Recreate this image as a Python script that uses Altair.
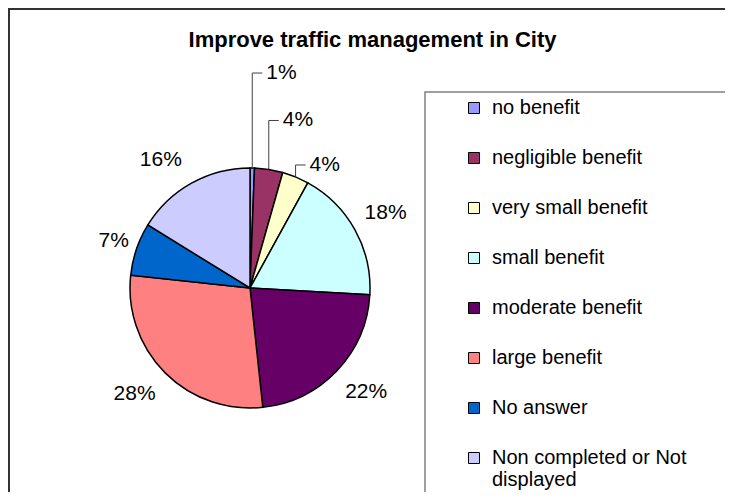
import altair as alt
import pandas as pd

# ---- data ----
categories = ["no benefit", "negligible benefit", "very small benefit", "small benefit",
              "moderate benefit", "large benefit", "No answer", "Non completed or Not displayed"]
values = [0.6, 3.8, 3.6, 17.9, 22.4, 28.4, 7.1, 16.2]
colors = ["#9999FF", "#993366", "#FFFFCC", "#CCFFFF", "#660066", "#FF8080", "#0066CC", "#CCCCFF"]

# ---- label layout (not data) ----
label_radius = [0, 0, 0, 155, 156, 157, 144, 156]
label_angle_shift = [0, 0, 0, 0, -1.7, 2.3, 0, -5.7]
leader_rise = [95, 49, 12, 0, 0, 0, 0, 0]

CX, CY, R = 242, 220, 120
FONT = "Liberation Sans"

df = pd.DataFrame({
    "cat": categories, "value": values, "idx": list(range(len(values))),
    "lab_r": label_radius, "dang": label_angle_shift, "rise": leader_rise,
})

base = alt.Chart(df).transform_joinaggregate(
    total="sum(value)"
).transform_window(
    cum="sum(value)", sort=[alt.SortField("idx")], frame=[None, 0]
).transform_calculate(
    mid="(datum.cum - datum.value/2)/datum.total*2*PI",
    pct="format(datum.value/datum.total, '.0%')",
    ex=f"{CX} + {R}*sin(datum.mid)",
    ey=f"{CY} - {R}*cos(datum.mid)",
    la="datum.mid + datum.dang*PI/180",
    lx=f"datum.rise > 0 ? datum.ex + 14 : {CX} + datum.lab_r*sin(datum.la)",
    ly=f"datum.rise > 0 ? datum.ey - datum.rise : {CY} - datum.lab_r*cos(datum.la)",
    hx="datum.ex + 10",
)

deco = alt.Chart(pd.DataFrame({"a": [0]}))
chart_border = deco.mark_rect(fillOpacity=0, stroke="#333333", strokeWidth=2).encode(
    x=alt.value(1), x2=alt.value(780), y=alt.value(-59), y2=alt.value(600))
legend_box = deco.mark_rect(fillOpacity=0, stroke="#808080", strokeWidth=1.5).encode(
    x=alt.value(417), x2=alt.value(780), y=alt.value(24), y2=alt.value(600))

legend = alt.Legend(
    title=None, orient="none", legendX=456, legendY=30,
    symbolType="square", symbolSize=121, symbolStrokeColor="black", symbolStrokeWidth=1,
    labelFontSize=20, labelFont=FONT, labelColor="black", labelOffset=8,
    rowPadding=30, labelLimit=400, padding=0,
    labelExpr="datum.label == 'Non completed or Not displayed' ? ['Non completed or Not', 'displayed'] : datum.label",
)

arcs = alt.Chart(df).mark_arc(outerRadius=R, stroke="black", strokeWidth=1.5).encode(
    theta=alt.Theta("value:Q", stack=True),
    order=alt.Order("idx:Q"),
    color=alt.Color("cat:N", scale=alt.Scale(domain=categories, range=colors), legend=legend),
    x=alt.value(CX), y=alt.value(CY),
)

big_labels = base.transform_filter("datum.rise == 0").mark_text(
    fontSize=21, font=FONT, color="black", align="center", baseline="middle"
).encode(
    x=alt.X("lx:Q", scale=None, axis=None), y=alt.Y("ly:Q", scale=None, axis=None), text="pct:N")

small_labels = base.transform_filter("datum.rise > 0").mark_text(
    fontSize=21, font=FONT, color="black", align="left", baseline="middle"
).encode(
    x=alt.X("lx:Q", scale=None, axis=None), y=alt.Y("ly:Q", scale=None, axis=None), text="pct:N")

leader_v = base.transform_filter("datum.rise > 0").mark_rule(color="#404040", strokeWidth=1).encode(
    x=alt.X("ex:Q", scale=None, axis=None), y=alt.Y("ey:Q", scale=None, axis=None), y2="ly:Q")
leader_h = base.transform_filter("datum.rise > 0").mark_rule(color="#404040", strokeWidth=1).encode(
    x=alt.X("ex:Q", scale=None, axis=None), x2="hx:Q", y=alt.Y("ly:Q", scale=None, axis=None))

chart = alt.layer(
    chart_border, legend_box, arcs, leader_v, leader_h, big_labels, small_labels
).properties(
    width=717, height=424,
    padding={"left": 0, "top": 60, "right": 0, "bottom": 0},
    autosize="none",
    title=alt.TitleParams("Improve traffic management in City", fontSize=22, font=FONT,
                          fontWeight="bold", anchor="middle", dx=6, dy=77, offset=16,
                          baseline="alphabetic", color="black"),
).configure_view(stroke=None)

chart.save("out.html", embed_options={"renderer": "svg", "actions": False})
